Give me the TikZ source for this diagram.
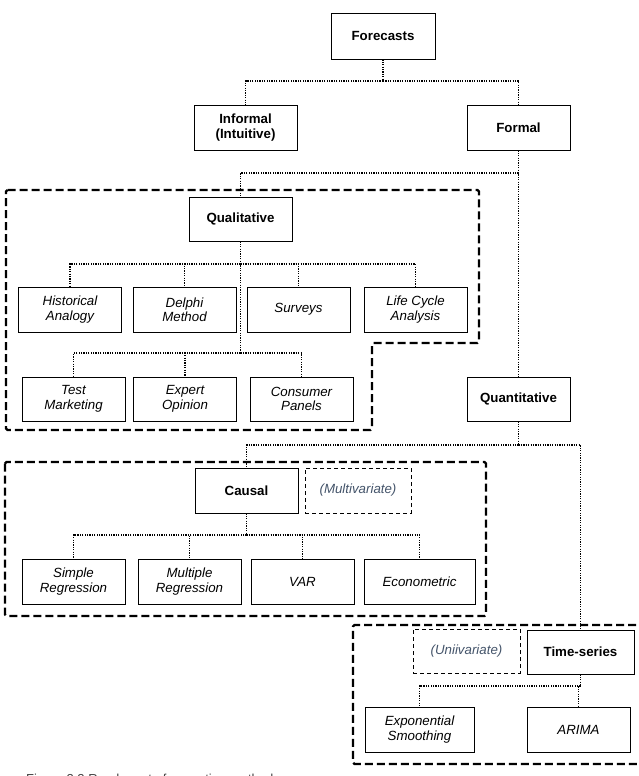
\documentclass[tikz,border=0pt]{standalone}
\usepackage{fontspec}
\setmainfont{Liberation Sans}
\definecolor{annot}{HTML}{44546A}
\begin{document}
\begin{tikzpicture}[x=1pt,y=-1pt,
  every node/.style={font=\fontsize{13.3}{14.5}\selectfont, align=center, inner sep=0pt},
  box/.style={draw, line width=0.9pt, minimum width=103pt, minimum height=45pt},
  bbox/.style={box, font=\fontsize{13.3}{14.5}\selectfont\bfseries},
  ibox/.style={box, font=\fontsize{13.3}{14.5}\selectfont\itshape},
  abox/.style={draw, line width=0.9pt, dash pattern=on 4pt off 3pt, minimum width=106pt, minimum height=45pt, text=annot, font=\fontsize{13.3}{14.5}\selectfont\itshape},
  conn/.style={line width=1.2pt, dash pattern=on 1.2pt off 1.2pt},
  region/.style={line width=2.4pt, dash pattern=on 8pt off 4pt, rounded corners=1.5pt}
]
\useasboundingbox (0,0) rectangle (639,776);

% regions
\draw[region] (6,190) -- (479,190) -- (479,343) -- (372,343) -- (372,430) -- (6,430) -- cycle;
\draw[region] (5,462) rectangle (486,616);
\draw[region] (660,625) -- (353,625) -- (353,764) -- (660,764);

% nodes
\node[bbox, minimum width=104pt, minimum height=46pt] (fc) at (383,36) {Forecasts};
\node[bbox] (inf) at (245.5,127.5) {Informal\\(Intuitive)};
\node[bbox] (frm) at (518.5,127.5) {Formal};
\node[bbox, minimum height=44pt] (qual) at (240.5,219) {Qualitative};
\node[ibox] (hist) at (70,309.5) {Historical\\Analogy};
\node[ibox] (delp) at (184.5,309.5) {Delphi\\Method};
\node[ibox] (surv) at (298.5,309.5) {Surveys};
\node[ibox] (life) at (415.5,309.5) {Life Cycle\\Analysis};
\node[ibox, minimum height=44pt] (test) at (73.5,399) {Test\\Marketing};
\node[ibox, minimum height=44pt] (expo) at (185,399) {Expert\\Opinion};
\node[ibox, minimum height=44pt] (cons) at (301.5,399) {Consumer\\Panels};
\node[bbox, minimum height=44pt] (quant) at (518.5,399) {Quantitative};
\node[bbox] (caus) at (246.5,490.5) {Causal};
\node[abox] (multi) at (358,490.5) {(Multivariate)};
\node[ibox] (simp) at (73.5,581.5) {Simple\\Regression};
\node[ibox] (mult) at (189.5,581.5) {Multiple\\Regression};
\node[ibox] (var) at (302.5,581.5) {VAR};
\node[ibox, minimum width=111pt] (econ) at (419.5,581.5) {Econometric};
\node[abox, minimum width=107pt, minimum height=44pt] (uni) at (466.5,651) {(Uniivariate)};
\node[bbox, minimum width=107pt, minimum height=44pt] (ts) at (580.5,652) {Time-series};
\node[ibox, minimum width=109pt] (exps) at (419.5,729.5) {Exponential\\Smoothing};
\node[ibox] (arima) at (578.5,729.5) {ARIMA};

% junctions
\coordinate (j0) at (383,81);
\coordinate (j1) at (518.5,173);
\coordinate (j2) at (240.5,264);
\coordinate (j3) at (240.5,353);
\coordinate (j4) at (518.5,445);
\coordinate (j5) at (246.5,535);
\coordinate (j6) at (580.5,686);

% connectors
\draw[conn] (fc.south) -- (j0) -| (inf.north);
\draw[conn] (j0) -| (frm.north);
\draw[conn] (frm.south) -- (quant.north);
\draw[conn] (j1) -| (qual.north);
\draw[conn] (qual.south) -- (j3);
\draw[conn] (j2) -| (hist.north);
\draw[conn] (j2) -| (delp.north);
\draw[conn] (j2) -| (surv.north);
\draw[conn] (j2) -| (life.north);
\draw[conn] (j3) -| (test.north);
\draw[conn] (j3) -| (expo.north);
\draw[conn] (j3) -| (cons.north);
\draw[conn] (quant.south) -- (j4);
\draw[conn] (j4) -| (caus.north);
\draw[conn] (j4) -| (ts.north);
\draw[conn] (caus.south) -- (j5);
\draw[conn] (j5) -| (simp.north);
\draw[conn] (j5) -| (mult.north);
\draw[conn] (j5) -| (var.north);
\draw[conn] (j5) -| (econ.north);
\draw[conn] (ts.south) -- (j6);
\draw[conn] (j6) -| (exps.north);
\draw[conn] (j6) -| (arima.north);

% caption (cut off at the bottom edge)
\begin{scope}
\clip (0,0) rectangle (639,776);
\node[anchor=base west, text=black!75, font=\fontsize{13}{14}\selectfont] (cap) at (26,783) {Figure 2.2 Roadmap to forecasting methods};
\end{scope}
\end{tikzpicture}
\end{document}
